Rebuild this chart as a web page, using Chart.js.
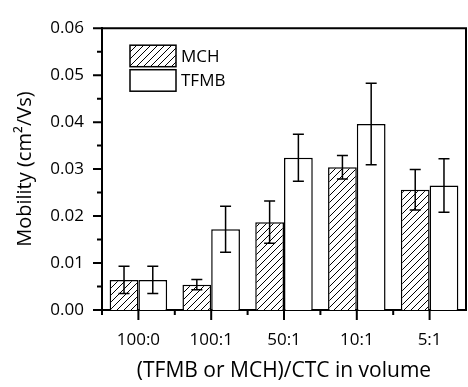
<!DOCTYPE html>
<html>
<head>
<meta charset="utf-8">
<script src="https://cdn.jsdelivr.net/npm/chart.js@4.4.1/dist/chart.umd.min.js"></script>
<style>
  html, body { margin: 0; padding: 0; background: #fff; }
  #wrap { position: relative; width: 468px; height: 387px; }
</style>
</head>
<body>
<div id="wrap"><canvas id="chart"></canvas></div>
<script>
// Data
const categories = ['100:0', '100:1', '50:1', '10:1', '5:1'];
const mchValues = [0.0064, 0.0054, 0.0187, 0.0304, 0.0256];
const mchErrors = [0.0029, 0.0011, 0.0045, 0.0025, 0.0043];
const tfmbValues = [0.0064, 0.0172, 0.0324, 0.0396, 0.0265];
const tfmbErrors = [0.0029, 0.0049, 0.0050, 0.0087, 0.0057];
const yMin = 0;
const yMax = 0.06;
const yStep = 0.01;

const FONT = "'Open Sans', 'DejaVu Sans', sans-serif";

// Diagonal hatch for the MCH bars
function makeHatch() {
    const size = 7;
    const c = document.createElement('canvas');
    c.width = size;
    c.height = size;
    const g = c.getContext('2d');
    g.fillStyle = '#fff';
    g.fillRect(0, 0, size, size);
    g.strokeStyle = '#000';
    g.lineWidth = 1;
    g.beginPath();
    g.moveTo(-1, size + 1);
    g.lineTo(size + 1, -1);
    g.moveTo(-1, 1);
    g.lineTo(1, -1);
    g.moveTo(size - 1, size + 1);
    g.lineTo(size + 1, size - 1);
    g.stroke();
    return g.createPattern(c, 'repeat');
}

const errorBars = {
    id: 'errorBars',
    afterDatasetsDraw(chart) {
        const ctx = chart.ctx;
        const y = chart.scales.y;
        ctx.save();
        ctx.strokeStyle = '#000';
        ctx.lineWidth = 1.5;
        chart.data.datasets.forEach((ds, i) => {
            const meta = chart.getDatasetMeta(i);
            meta.data.forEach((bar, j) => {
                const v = ds.data[j];
                const e = ds.errors[j];
                const top = y.getPixelForValue(v + e);
                const bot = y.getPixelForValue(v - e);
                const half = 5.5;
                ctx.beginPath();
                ctx.moveTo(bar.x, top);
                ctx.lineTo(bar.x, bot);
                ctx.moveTo(bar.x - half, top);
                ctx.lineTo(bar.x + half, top);
                ctx.moveTo(bar.x - half, bot);
                ctx.lineTo(bar.x + half, bot);
                ctx.stroke();
            });
        });
        ctx.restore();
    }
};

// Frame, major and minor ticks, and the legend inside the plot
const frame = {
    id: 'frame',
    afterDraw(chart) {
        const ctx = chart.ctx;
        const a = chart.chartArea;
        const x = chart.scales.x;
        const y = chart.scales.y;
        ctx.save();
        ctx.strokeStyle = '#000';
        ctx.lineWidth = 2;
        ctx.beginPath();
        ctx.moveTo(a.left, a.top);
        ctx.lineTo(a.right, a.top);
        ctx.lineTo(a.right, a.bottom);
        ctx.stroke();

        ctx.beginPath();
        for (let v = yMin; v <= yMax + 1e-9; v += yStep / 2) {
            const py = y.getPixelForValue(v);
            const major = Math.abs(Math.round(v / yStep) * yStep - v) < 1e-9;
            ctx.moveTo(a.left, py);
            ctx.lineTo(a.left - (major ? 9 : 5), py);
        }
        categories.forEach((c, i) => {
            const px = x.getPixelForValue(i);
            ctx.moveTo(px, a.bottom);
            ctx.lineTo(px, a.bottom + 10);
            const edge = px - (x.getPixelForValue(1) - x.getPixelForValue(0)) / 2;
            ctx.moveTo(edge, a.bottom);
            ctx.lineTo(edge, a.bottom + 5);
        });
        ctx.stroke();

        // legend
        const bx = a.left + 28;
        let by = a.top + 17;
        const bw = 46, bh = 21.5;
        ctx.font = '17px ' + FONT;
        ctx.textBaseline = 'middle';
        ctx.fillStyle = '#000';
        chart.data.datasets.forEach(ds => {
            ctx.fillStyle = ds.backgroundColor;
            ctx.fillRect(bx, by, bw, bh);
            ctx.lineWidth = 1.5;
            ctx.strokeRect(bx, by, bw, bh);
            ctx.fillStyle = '#000';
            ctx.fillText(ds.label, bx + bw + 5, by + bh / 2 + 1);
            by += bh + 3;
        });
        ctx.restore();
    }
};

const ctx = document.getElementById('chart').getContext('2d');
const chart = new Chart(ctx, {
    type: 'bar',
    data: {
        labels: categories,
        datasets: [{
            label: 'MCH',
            data: mchValues,
            errors: mchErrors,
            backgroundColor: makeHatch(),
            borderColor: '#000',
            borderWidth: 1.5
        }, {
            label: 'TFMB',
            data: tfmbValues,
            errors: tfmbErrors,
            backgroundColor: '#fff',
            borderColor: '#000',
            borderWidth: 1.5
        }]
    },
    options: {
        responsive: true,
        maintainAspectRatio: false,
        animation: false,
        devicePixelRatio: 1,
        layout: { padding: { top: 22, right: 2, left: 0, bottom: 0 } },
        datasets: {
            bar: { categoryPercentage: 0.79, barPercentage: 1.0 }
        },
        plugins: {
            legend: { display: false },
            tooltip: { enabled: false }
        },
        scales: {
            x: {
                grid: { display: false, drawTicks: false },
                border: { display: true, color: '#000', width: 2 },
                ticks: {
                    color: '#000',
                    padding: 20,
                    font: { family: FONT, size: 17 }
                },
                title: {
                    display: true,
                    text: '(TFMB or MCH)/CTC in volume',
                    color: '#000',
                    font: { family: FONT, size: 21 },
                    padding: { top: 0, bottom: 3.5 }
                },
                afterFit(s) { s.height = 77; }
            },
            y: {
                min: yMin,
                max: yMax,
                grid: { display: false, drawTicks: false },
                border: { display: true, color: '#000', width: 2 },
                ticks: {
                    stepSize: yStep,
                    color: '#000',
                    padding: 18,
                    font: { family: FONT, size: 17 },
                    callback: v => v.toFixed(2)
                },
                title: {
                    display: true,
                    text: 'Mobility (cm²/Vs)',
                    color: '#000',
                    font: { family: FONT, size: 20 },
                    padding: { top: 13, bottom: 0 }
                },
                afterFit(s) { s.width = 102; }
            }
        }
    },
    plugins: [errorBars, frame]
});
</script>
</body>
</html>
